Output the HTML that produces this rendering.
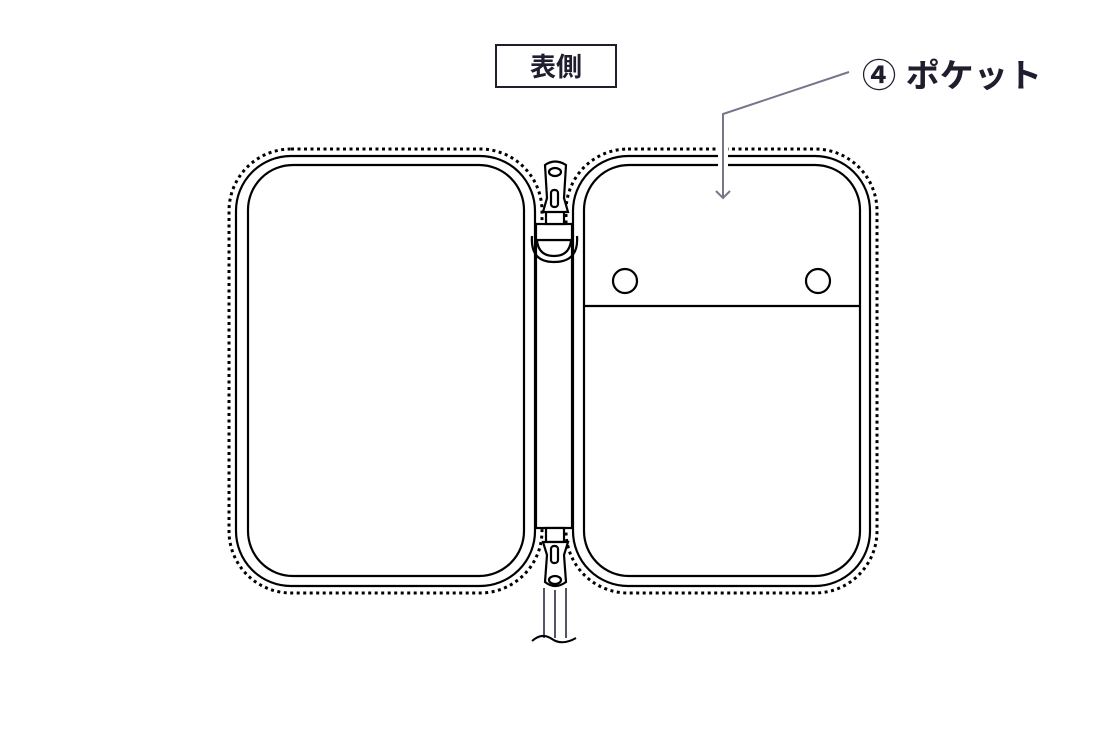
<!DOCTYPE html>
<html><head><meta charset="utf-8"><style>
html,body{margin:0;padding:0;background:#fff;}
svg{display:block;}
text{font-family:"Liberation Sans","Noto Sans CJK JP",sans-serif;font-weight:bold;fill:#1f1d2e;}
</style></head><body>
<svg width="1118" height="738" viewBox="0 0 1118 738" xmlns="http://www.w3.org/2000/svg">
<rect x="496" y="45" width="120" height="42" fill="#fff" stroke="#1f1d2e" stroke-width="2"/>
<text x="556" y="76" font-size="26" text-anchor="middle">表側</text>
<text x="862" y="87" font-size="33" textLength="180" lengthAdjust="spacingAndGlyphs">④ ポケット</text>
<g fill="none" stroke="#000" stroke-width="2.2">
<rect x="229" y="149" width="313" height="444" rx="62" stroke-width="3" stroke-dasharray="3,3.5"/>
<rect x="566" y="149" width="311" height="444" rx="62" stroke-width="3" stroke-dasharray="3,3.5"/>
<rect x="236" y="156" width="299" height="430" rx="55"/>
<rect x="248" y="165" width="276" height="411" rx="45"/>
<rect x="573" y="156" width="297" height="430" rx="55"/>
<rect x="584" y="165" width="276" height="411" rx="45"/>
<line x1="584" y1="306" x2="860" y2="306"/>
<circle cx="625" cy="281" r="12"/>
<circle cx="818" cy="281" r="12"/>
</g>
<rect x="718" y="145" width="10" height="24" fill="#fff"/>
<g fill="#fff" stroke="#000" stroke-width="2.2">
<rect x="536" y="240" width="36" height="288"/>
<path d="M532 236 Q530 262 554 262 Q579 262 577 236" fill="none"/>
<path d="M537 241 Q539 256 554 256 Q569 256 571 241" fill="none"/>
<rect x="536" y="224" width="36" height="16"/>
<rect x="546" y="210" width="18" height="14"/>
<path d="M545 165 Q555 158 566 165 L564 198 L568 212 L543 212 L547 198 Z"/>
<ellipse cx="555" cy="172" rx="6" ry="4"/>
<rect x="551" y="190" width="7" height="17" rx="3"/>
<rect x="546" y="528" width="18" height="14"/>
<path d="M545 582 Q555 590 566 582 L564 555 L568 542 L543 542 L547 555 Z"/>
<ellipse cx="555" cy="580" rx="6" ry="4"/>
<rect x="551" y="546" width="7" height="17" rx="3"/>
</g>
<g stroke="#2a2840" stroke-width="1.6" fill="none">
<line x1="544" y1="588" x2="544" y2="638"/>
<line x1="555" y1="590" x2="555" y2="638"/>
<line x1="566" y1="588" x2="566" y2="638"/>
</g>
<path d="M532 641 Q542 632 552 639 Q562 646 576 638" stroke="#000" stroke-width="2" fill="none"/>
<g stroke="#77768a" stroke-width="2" fill="none">
<polyline points="849,72 723,114 723,198"/>
<polyline points="716,191 723,198 730,191"/>
</g>
</svg>
</body></html>
